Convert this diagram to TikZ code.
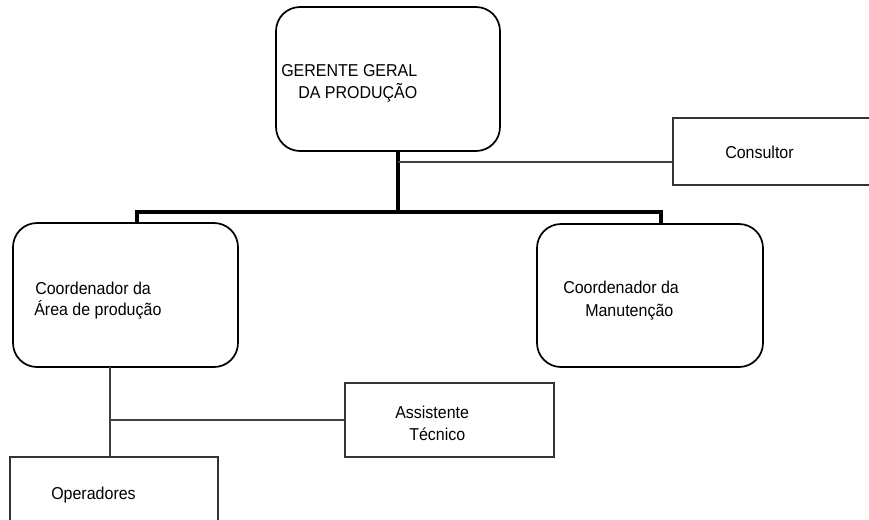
\documentclass[tikz,border=0pt]{standalone}
\usepackage{fontspec}
\setmainfont[FakeStretch=0.93]{Liberation Sans}
\begin{document}
\begin{tikzpicture}[x=0.75pt,y=-0.75pt,
  rbox/.style={draw=black,line width=1.3pt,rounded corners=18pt,inner sep=0pt},
  sbox/.style={draw=black!80,line width=1.1pt,inner sep=0pt},
  lbl/.style={anchor=base west,inner sep=0pt,font=\fontsize{12.9}{15}\selectfont},
  thick line/.style={line width=2.3pt,black},
  thin line/.style={line width=1.1pt,black!75}]
\useasboundingbox (0,0) rectangle (869,519);
\fill[white] (0,0) rectangle (869,519);
% boxes
\node[rbox,minimum width=224*0.75pt,minimum height=144*0.75pt] (ger) at (388,79) {};
\node[rbox,minimum width=225*0.75pt,minimum height=144*0.75pt] (cap) at (125.5,295) {};
\node[rbox,minimum width=226*0.75pt,minimum height=143*0.75pt] (cman) at (650,295.5) {};
\node[sbox,minimum width=210*0.75pt,minimum height=67*0.75pt] (cons) at (778,151.5) {};
\node[sbox,minimum width=209*0.75pt,minimum height=74*0.75pt] (ast) at (449.5,420) {};
\node[sbox,minimum width=208*0.75pt,minimum height=90*0.75pt] (op) at (114,502) {};
% texts
\node[lbl] (t1) at (281,76) {GERENTE GERAL};
\node[lbl] (t2) at (298,98) {DA PRODUÇÃO};
\node[lbl] (t3) at (725,158) {Consultor};
\node[lbl] (t4) at (35,294) {Coordenador da};
\node[lbl] (t5) at (34,315) {Área de produção};
\node[lbl] (t6) at (563,293) {Coordenador da};
\node[lbl] (t7) at (585,316) {Manutenção};
\node[lbl] (t8) at (395,418) {Assistente};
\node[lbl] (t9) at (409,440) {Técnico};
\node[lbl] (t10) at (51,499) {Operadores};
% connectors
\coordinate (gbot) at (398,151);
\coordinate (bmid) at (398,212);
\coordinate (bl) at (137,212);
\coordinate (br) at (661,212);
\coordinate (jc) at (398,162);
\coordinate (cb) at (110,367);
\coordinate (ja) at (110,420);
\draw[thick line] (gbot) -- (bmid);
\draw[thick line] (bl |- cap.north) -- (bl) -- (br) -- (br |- cman.north);
\draw[thin line] (jc) -- (jc -| cons.west);
\draw[thin line] (cb) -- (cb |- op.north);
\draw[thin line] (ja) -- (ja -| ast.west);
\end{tikzpicture}
\end{document}
